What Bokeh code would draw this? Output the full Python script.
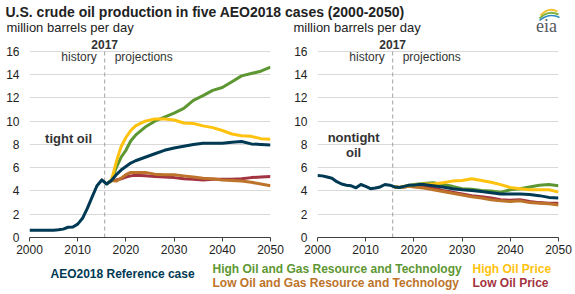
from bokeh.plotting import figure
from bokeh.layouts import column, row
from bokeh.models import Range1d, Label, FixedTicker
from bokeh.embed import file_html
from bokeh.resources import INLINE

# ---------------- data ----------------
hist_years = list(range(2000, 2017))
tight_hist = [0.62, 0.62, 0.62, 0.62, 0.62, 0.63, 0.66, 0.72, 0.88, 0.9,
              1.15, 1.65, 2.5, 3.5, 4.45, 4.95, 4.6]
nontight_hist = [5.33, 5.3, 5.2, 5.1, 4.8, 4.6, 4.5, 4.45, 4.27, 4.56,
                 4.4, 4.2, 4.25, 4.35, 4.56, 4.5, 4.35]

proj_years = [2017, 2018, 2019, 2020, 2021, 2022, 2024, 2026, 2028, 2030,
              2032, 2034, 2036, 2038, 2040, 2042, 2044, 2046, 2048, 2050]

tight_ref = [4.9, 5.4, 5.8, 6.1, 6.4, 6.6, 6.9, 7.2, 7.5, 7.7,
             7.85, 8.0, 8.1, 8.1, 8.1, 8.2, 8.25, 8.05, 8.0, 7.95]
tight_hog = [4.9, 6.0, 6.9, 7.5, 8.3, 8.8, 9.5, 10.0, 10.35, 10.7,
             11.1, 11.8, 12.2, 12.65, 12.9, 13.4, 13.9, 14.1, 14.3, 14.65]
tight_hop = [4.9, 6.5, 7.8, 8.6, 9.2, 9.6, 10.0, 10.2, 10.2, 10.1,
             9.85, 9.8, 9.6, 9.45, 9.2, 8.9, 8.75, 8.7, 8.5, 8.45]
tight_log = [4.9, 4.85, 5.1, 5.4, 5.6, 5.6, 5.6, 5.45, 5.4, 5.4,
             5.3, 5.2, 5.1, 5.05, 4.95, 4.9, 4.85, 4.75, 4.6, 4.45]
tight_lop = [4.9, 4.95, 5.05, 5.2, 5.3, 5.35, 5.3, 5.25, 5.2, 5.15,
             5.05, 5.0, 4.95, 5.0, 5.0, 5.0, 5.05, 5.15, 5.2, 5.25]

nontight_ref = [4.3, 4.4, 4.5, 4.5, 4.55, 4.55, 4.45, 4.35, 4.2, 4.1,
                4.05, 3.95, 3.85, 3.75, 3.75, 3.75, 3.7, 3.6, 3.45, 3.4]
nontight_hog = [4.3, 4.4, 4.5, 4.55, 4.6, 4.65, 4.7, 4.55, 4.4, 4.2,
                4.15, 4.05, 4.0, 3.9, 4.1, 4.2, 4.35, 4.5, 4.55, 4.45]
nontight_hop = [4.3, 4.4, 4.45, 4.5, 4.55, 4.6, 4.6, 4.7, 4.85, 4.9,
                5.05, 4.9, 4.75, 4.55, 4.3, 4.2, 4.1, 4.1, 4.1, 3.9]
nontight_log = [4.3, 4.35, 4.4, 4.35, 4.3, 4.25, 4.1, 3.95, 3.8, 3.65,
                3.5, 3.4, 3.25, 3.15, 3.1, 3.15, 3.0, 2.95, 2.9, 2.8]
nontight_lop = [4.3, 4.35, 4.4, 4.4, 4.4, 4.4, 4.25, 4.05, 3.9, 3.75,
                3.6, 3.5, 3.4, 3.25, 3.2, 3.25, 3.1, 3.0, 2.95, 2.95]

x_ticks = [2000, 2010, 2020, 2030, 2040, 2050]
y_ticks = [0, 2, 4, 6, 8, 10, 12, 14, 16]
y_max = 16
divider_year = 2015.6

series_names = ["AEO2018 Reference case",
                "High Oil and Gas Resource and Technology",
                "Low Oil and Gas Resource and Technology",
                "High Oil Price",
                "Low Oil Price"]

# ---------------- style ----------------
FONT = "Liberation Sans"
C_REF = "#003953"
C_HOG = "#5D9732"
C_LOG = "#BD732A"
C_HOP = "#FFC20E"
C_LOP = "#A33340"
TXT = "#333333"


def blank(width, height):
    f = figure(width=width, height=height, x_range=Range1d(0, width),
               y_range=Range1d(height, 0), output_backend="svg",
               toolbar_location=None, x_axis_type=None, y_axis_type=None,
               min_border=0)
    f.outline_line_color = None
    f.xgrid.grid_line_color = None
    f.ygrid.grid_line_color = None
    return f


def panel(width, bl, br, hist, ref, hog, hop, log, lop, labels, lab_x, lab_ys):
    p = figure(width=width, height=223, x_range=Range1d(2000, 2050),
               y_range=Range1d(0, 17.2), output_backend="svg",
               toolbar_location=None, min_border_left=bl, min_border_right=br,
               min_border_top=1, min_border_bottom=22)
    p.outline_line_color = None
    p.xgrid.grid_line_color = None
    p.ygrid.grid_line_color = "#d9d9d9"
    p.ygrid.ticker = FixedTicker(ticks=y_ticks)
    p.yaxis.ticker = FixedTicker(ticks=y_ticks)
    p.xaxis.ticker = FixedTicker(ticks=x_ticks)
    p.yaxis.axis_line_color = None
    p.yaxis.major_tick_line_color = None
    p.yaxis.minor_tick_line_color = None
    p.yaxis.major_tick_in = 0
    p.yaxis.major_tick_out = 0
    p.yaxis.major_label_standoff = 10
    p.xaxis.axis_line_color = "#404040"
    p.xaxis.major_tick_line_color = "#404040"
    p.xaxis.major_tick_in = 0
    p.xaxis.major_tick_out = 4
    p.xaxis.minor_tick_line_color = None
    p.xaxis.major_label_standoff = 3
    for ax in (p.xaxis, p.yaxis):
        ax.major_label_text_font = FONT
        ax.major_label_text_font_size = "12px"
        ax.major_label_text_color = "#222222"

    p.segment(x0=[divider_year], y0=[0], x1=[divider_year], y1=[y_max],
              line_color="#a0a0a0", line_dash="4 3", line_width=1)

    px = [hist_years[-1]] + proj_years
    for vals, col in ((lop, C_LOP), (log, C_LOG), (hog, C_HOG), (hop, C_HOP)):
        p.line(px, [hist[-1]] + vals, line_color=col, line_width=3,
               line_join="round")
    p.line(hist_years + proj_years, hist + ref, line_color=C_REF,
           line_width=3, line_join="round")

    p.add_layout(Label(x=divider_year, y=y_max, y_offset=7, text="2017",
                       text_align="center", text_baseline="middle",
                       text_font=FONT, text_font_size="12px",
                       text_font_style="bold", text_color=TXT))
    p.add_layout(Label(x=divider_year, y=y_max, x_offset=-8, y_offset=-6,
                       text="history", text_align="right",
                       text_baseline="middle", text_font=FONT,
                       text_font_size="12px", text_color=TXT))
    p.add_layout(Label(x=divider_year, y=y_max, x_offset=10, y_offset=-6,
                       text="projections", text_align="left",
                       text_baseline="middle", text_font=FONT,
                       text_font_size="12px", text_color=TXT))
    for t, yy in zip(labels, lab_ys):
        p.add_layout(Label(x=lab_x, y=yy, text=t, text_align="center",
                           text_baseline="middle", text_font=FONT,
                           text_font_size="13px", text_font_style="bold",
                           text_color=TXT))
    return p


left = panel(290, 29, 20, tight_hist, tight_ref, tight_hog, tight_hop,
             tight_log, tight_lop, ["tight oil"], 2008.1, [8.5])
right = panel(285, 27, 17, nontight_hist, nontight_ref, nontight_hog,
              nontight_hop, nontight_log, nontight_lop,
              ["nontight", "oil"], 2007.5, [8.6, 7.3])

# ---------------- header ----------------
top = blank(575, 36)
top.add_layout(Label(x=5, y=11, text="U.S. crude oil production in five AEO2018 cases (2000-2050)",
                     text_baseline="middle", text_font=FONT,
                     text_font_size="14px", text_font_style="bold",
                     text_color="#222222"))
top.add_layout(Label(x=6, y=27, text="million barrels per day",
                     text_baseline="middle", text_font=FONT,
                     text_font_size="13px", text_color="#222222"))
top.add_layout(Label(x=293, y=27, text="million barrels per day",
                     text_baseline="middle", text_font=FONT,
                     text_font_size="13px", text_color="#222222"))
# eia logo
top.quadratic(x0=[540], y0=[15], cx=[548], cy=[6], x1=[557], y1=[11],
              line_color="#F2C230", line_width=2)
top.quadratic(x0=[539], y0=[18], cx=[548], cy=[9], x1=[558], y1=[14],
              line_color="#7DB343", line_width=2)
top.quadratic(x0=[539], y0=[20], cx=[549], cy=[12], x1=[559], y1=[17],
              line_color="#2E8BC0", line_width=1.5)
top.add_layout(Label(x=546, y=25, text="eia", text_align="center",
                     text_baseline="middle", text_font="Liberation Serif",
                     text_font_size="18px", text_color="#55595e"))

# ---------------- legend ----------------
leg = blank(575, 35)
leg_items = [(series_names[0], C_REF, 50, 14),
             (series_names[1], C_HOG, 212, 9),
             (series_names[2], C_LOG, 212, 23),
             (series_names[3], C_HOP, 472, 9),
             (series_names[4], C_LOP, 472, 23)]
for name, col, lx, ly in leg_items:
    leg.add_layout(Label(x=lx, y=ly, text=name, text_baseline="middle",
                         text_font=FONT, text_font_size="12px",
                         text_font_style="bold", text_color=col))

layout = column(top, row(left, right), leg)
open("out.html", "w").write(file_html(layout, INLINE))
